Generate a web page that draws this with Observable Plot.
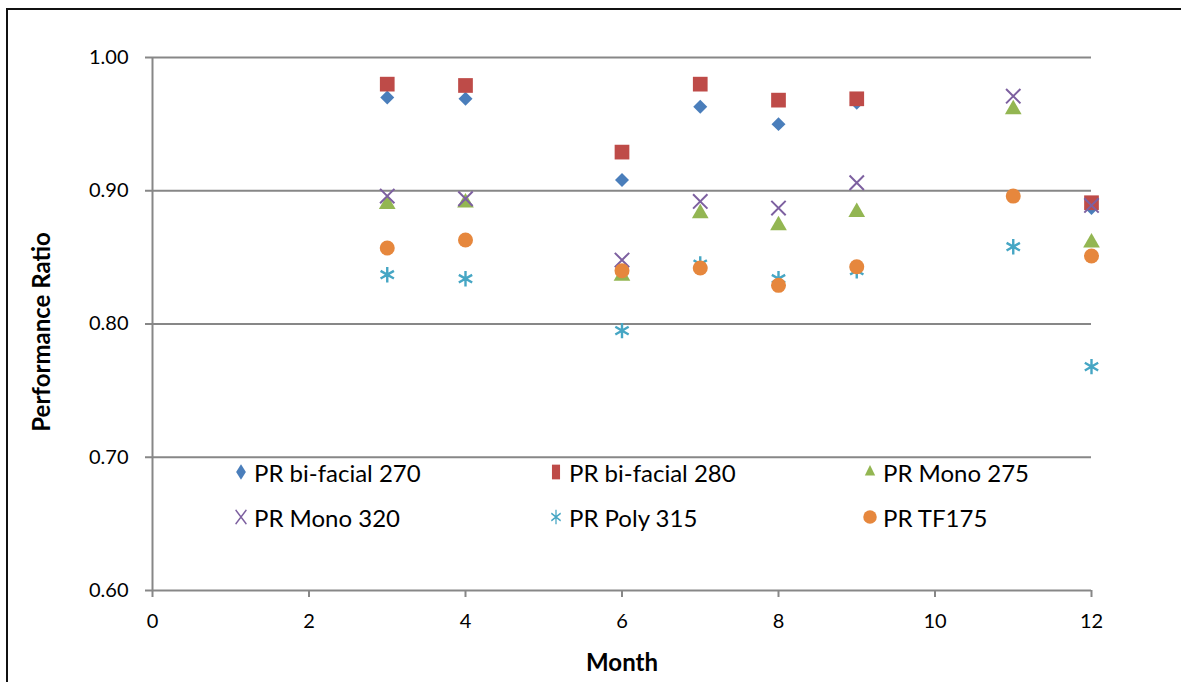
<!DOCTYPE html>
<html>
<head>
<meta charset="utf-8">
<script src="https://cdn.jsdelivr.net/npm/d3@7"></script>
<script src="https://cdn.jsdelivr.net/npm/@observablehq/plot@0.6"></script>
<style>
  html, body { margin: 0; padding: 0; background: #fff; overflow: hidden; }
  #wrap { position: relative; width: 1181px; height: 682px; }
  #border { position: absolute; left: 6px; top: 8px; width: 1300px; height: 800px; border: 2px solid #111; box-sizing: border-box; }
  #chart { position: absolute; left: 0; top: 0; }
  .leg { position: absolute; font-family: Lato, "Open Sans", sans-serif; font-size: 24px; color: #000; white-space: nowrap; display: flex; align-items: center; }
  .leg svg { margin-right: 4px; overflow: visible; }
</style>
</head>
<body>
<div id="wrap">
  <div id="border"></div>
  <div id="chart"></div>
</div>
<script>
// ---- data ----
const months = [3, 4, 6, 7, 8, 9, 11, 12];
const seriesNames = ["PR bi-facial 270", "PR bi-facial 280", "PR Mono 275", "PR Mono 320", "PR Poly 315", "PR TF175"];
const bifacial270 = [0.970, 0.969, 0.908, 0.963, 0.950, 0.966, null, 0.887];
const bifacial280 = [0.980, 0.979, 0.929, 0.980, 0.968, 0.969, null, 0.891];
const mono275     = [0.890, 0.891, 0.836, 0.883, 0.874, 0.884, 0.961, 0.861];
const mono320     = [0.896, 0.894, 0.848, 0.892, 0.887, 0.906, 0.971, 0.889];
const poly315     = [0.837, 0.834, 0.795, 0.845, 0.834, 0.840, 0.858, 0.768];
const tf175       = [0.857, 0.863, 0.840, 0.842, 0.829, 0.843, 0.896, 0.851];
const xTicks = [0, 2, 4, 6, 8, 10, 12];
const yTicks = [0.60, 0.70, 0.80, 0.90, 1.00];

const seriesValues = [bifacial270, bifacial280, mono275, mono320, poly315, tf175];
const colors = ["#4a7ebb", "#be4b48", "#93b652", "#7d60a0", "#46a6c4", "#e6873d"];
const symbols = ["diamond2", "square", "triangle", "times", "asterisk", "circle"];
const radii = [6.3, 8.3, 6.2, 6.6, 7.3, 7.5];
const strokeSym = [false, false, false, true, true, false];
const strokeW = [0, 0, 0, 2, 2.4, 0];

const rows = seriesValues.map(vals =>
  months.map((m, i) => ({month: m, pr: vals[i]})).filter(d => d.pr != null)
);

const font = "Lato, 'Open Sans', sans-serif";
const gridColor = "#878787";

const marks = [
  Plot.gridY(yTicks.slice(1), {stroke: gridColor, strokeOpacity: 1, strokeWidth: 2}),
  Plot.ruleY([0.60], {stroke: gridColor, strokeWidth: 2}),
  Plot.ruleX([0], {stroke: gridColor, strokeWidth: 2}),
  Plot.axisY(yTicks, {tickSize: 7, tickPadding: 17, stroke: gridColor, strokeWidth: 2, tickFormat: d3.format(".2f"), fontSize: 20, fill: "#000", label: null}),
  Plot.axisX(xTicks, {tickSize: 7, tickPadding: 16, stroke: gridColor, strokeWidth: 2, tickFormat: d3.format("d"), fontSize: 20, fill: "#000", label: null}),
  Plot.text(["Performance Ratio"], {frameAnchor: "left", textAnchor: "middle", dx: -110, dy: 8, rotate: -90, fontSize: 24, fontWeight: "bold", fill: "#000"}),
  Plot.text(["Month"], {frameAnchor: "bottom", dy: 80, fontSize: 24, fontWeight: "bold", fill: "#000"})
];

rows.forEach((data, i) => {
  const opts = {x: "month", y: "pr", symbol: symbols[i], r: radii[i]};
  if (strokeSym[i]) { opts.stroke = colors[i]; opts.strokeWidth = strokeW[i]; opts.fill = "none"; }
  else { opts.fill = colors[i]; opts.stroke = "none"; }
  marks.push(Plot.dot(data, opts));
});

const chart = Plot.plot({
  width: 1181,
  height: 682,
  marginLeft: 152,
  marginRight: 90,
  marginTop: 57,
  marginBottom: 92,
  style: {fontFamily: font, background: "transparent", overflow: "visible"},
  x: {domain: [0, 12]},
  y: {domain: [0.6, 1.0]},
  marks
});
document.getElementById("chart").appendChild(chart);

// ---- legend (inside the plot area) ----
const legPos = [[232, 472], [547, 472], [861, 472], [232, 517], [547, 517], [861, 517]];
const legScale = [[0.7, 1.1], [0.55, 1.0], [0.8, 0.95], [0.75, 1.0], [0.7, 0.95], [0.9, 0.9]];
const wrap = document.getElementById("wrap");
seriesNames.forEach((name, i) => {
  const div = document.createElement("div");
  div.className = "leg";
  div.style.left = legPos[i][0] + "px";
  div.style.top = (legPos[i][1] - 14) + "px";
  div.style.height = "28px";
  const sym = {diamond2: d3.symbolDiamond2, square: d3.symbolSquare, triangle: d3.symbolTriangle2, times: d3.symbolTimes, asterisk: d3.symbolAsterisk, circle: d3.symbolCircle}[symbols[i]];
  const path = d3.symbol(sym, Math.PI * radii[i] * radii[i])();
  const [sx, sy] = legScale[i];
  const style = strokeSym[i] ? `fill="none" stroke="${colors[i]}" stroke-width="1.8"` : `fill="${colors[i]}"`;
  div.innerHTML = `<svg width="18" height="28"><path transform="translate(9,14) scale(${sx},${sy})" d="${path}" ${style}></path></svg><span>${name}</span>`;
  wrap.appendChild(div);
});
</script>
</body>
</html>
